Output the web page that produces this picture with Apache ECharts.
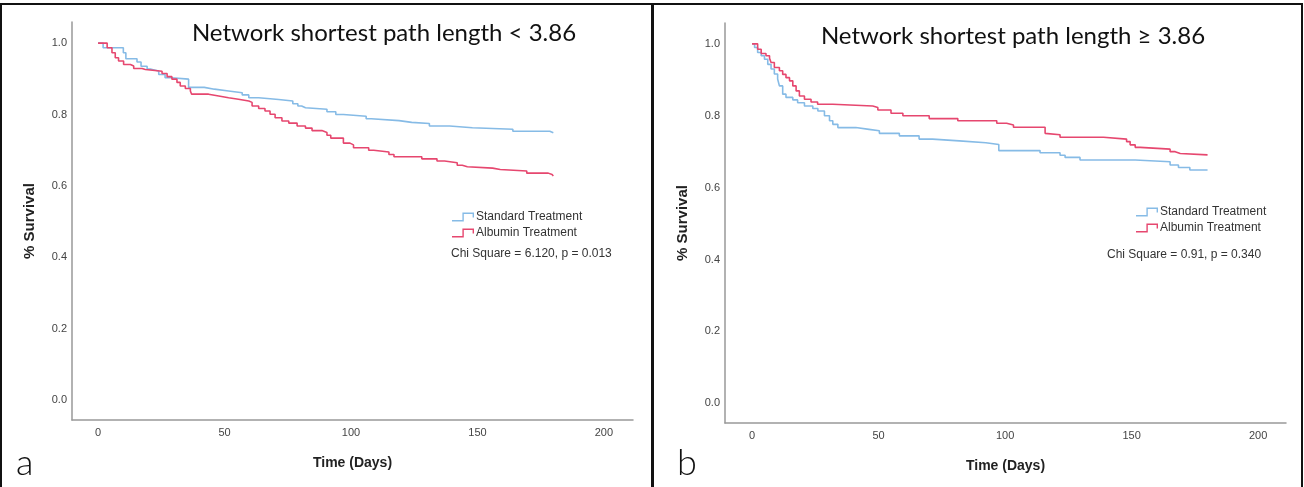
<!DOCTYPE html>
<html>
<head>
<meta charset="utf-8">
<script src="https://cdn.jsdelivr.net/npm/echarts@6/dist/echarts.min.js"></script>
<style>
  html, body { margin: 0; padding: 0; background: #fff; }
  #main { width: 1304px; height: 487px; }
</style>
</head>
<body>
<div id="main"></div>
<script>
// Kaplan-Meier curves (days, survival after each drop)
const panelTitles = ["Network shortest path length < 3.86", "Network shortest path length \u2265 3.86"];
const panelLetters = ["a", "b"];
const seriesNames = ["Standard Treatment", "Albumin Treatment"];
const chiTexts = ["Chi Square = 6.120, p = 0.013", "Chi Square = 0.91, p = 0.340"];
const xTicks = [0, 50, 100, 150, 200];
const yTicks = [0, 0.2, 0.4, 0.6, 0.8, 1.0];

// panel a, standard treatment
const aStdDays = [0, 2, 10, 11, 15.4, 17, 19.4, 21, 24, 26.5, 29, 35.8, 42, 46, 51.6, 57, 59.6, 63.5, 71.4, 77, 79, 80.5, 82, 90.5, 94, 97, 106, 108, 119, 124, 131, 139, 148, 164, 178.6, 180];
const aStdSurv = [1.0, 0.987, 0.973, 0.956, 0.947, 0.935, 0.927, 0.922, 0.912, 0.903, 0.899, 0.876, 0.871, 0.866, 0.861, 0.855, 0.847, 0.842, 0.838, 0.83, 0.824, 0.819, 0.815, 0.808, 0.8, 0.795, 0.788, 0.783, 0.778, 0.775, 0.768, 0.763, 0.759, 0.753, 0.749, 0.749];
// panel a, albumin treatment
const aAlbDays = [0, 3.6, 5.5, 6.8, 8.1, 10.1, 12.8, 14.1, 17.4, 18.7, 25.3, 27.3, 29.2, 31.2, 32.5, 34.5, 36.5, 37, 43.7, 47.7, 51.6, 55.5, 59.6, 60.9, 63.5, 66, 68, 70, 72.7, 75.4, 78.7, 82, 84.6, 88.5, 90.5, 92, 97, 99.6, 101, 107, 109, 115, 117, 128, 134, 137, 142, 144, 146, 156, 159, 169.5, 178, 179.5, 180];
const aAlbSurv = [1.0, 0.987, 0.973, 0.959, 0.95, 0.94, 0.936, 0.929, 0.926, 0.921, 0.915, 0.906, 0.899, 0.89, 0.88, 0.873, 0.866, 0.857, 0.852, 0.847, 0.843, 0.838, 0.834, 0.824, 0.817, 0.81, 0.801, 0.791, 0.782, 0.776, 0.768, 0.762, 0.755, 0.75, 0.742, 0.734, 0.72, 0.715, 0.707, 0.7, 0.695, 0.688, 0.682, 0.676, 0.67, 0.665, 0.658, 0.654, 0.65, 0.646, 0.642, 0.636, 0.632, 0.628, 0.628];
// panel b, standard treatment
const bStdDays = [0, 1, 2.2, 3.6, 4.9, 6.2, 7.5, 8.8, 10.1, 10.8, 12.1, 13.4, 16.1, 18, 20.7, 24, 26, 28.6, 30.6, 31.9, 33.9, 41, 46.2, 50.3, 58.2, 66, 71.3, 81.9, 92.4, 97.5, 113.8, 121.7, 123.7, 129.6, 151.4, 165.2, 168.5, 173, 180];
const bStdSurv = [1.0, 0.99, 0.976, 0.967, 0.957, 0.943, 0.93, 0.916, 0.902, 0.883, 0.86, 0.851, 0.844, 0.836, 0.827, 0.82, 0.813, 0.8, 0.786, 0.776, 0.767, 0.762, 0.758, 0.751, 0.744, 0.735, 0.73, 0.725, 0.72, 0.703, 0.697, 0.69, 0.684, 0.677, 0.672, 0.663, 0.656, 0.649, 0.649];
// panel b, albumin treatment
const bAlbDays = [0, 2.2, 3.6, 5.5, 6.9, 7.5, 8.8, 10.8, 12.1, 13.4, 14.8, 16.1, 17.4, 18.7, 20.7, 23.3, 25.9, 31.9, 47.7, 49.7, 54.9, 59.6, 70, 81.3, 96.7, 100.6, 103.3, 115.8, 116.5, 121.7, 138.9, 148, 149.4, 151.4, 153.4, 165.2, 167.2, 169.2, 180];
const bAlbSurv = [1.0, 0.985, 0.973, 0.967, 0.96, 0.948, 0.934, 0.925, 0.915, 0.906, 0.897, 0.883, 0.869, 0.855, 0.846, 0.838, 0.832, 0.827, 0.823, 0.816, 0.807, 0.8, 0.792, 0.786, 0.779, 0.774, 0.768, 0.751, 0.747, 0.74, 0.735, 0.728, 0.719, 0.712, 0.707, 0.7, 0.695, 0.691, 0.691];

const colors = ["#86bbe6", "#e6476f"];
const labelFont = "Liberation Sans, Arial, sans-serif";

const zip = (xs, ys) => xs.map((x, i) => [x, ys[i]]);

// Layout of the two panels (pixels)
const grids = [
  { left: 72, top: 22, width: 561, height: 398 },
  { left: 725, top: 23, width: 561, height: 400 },
];
const xRanges = [[-10.3, 211.5], [-10.7, 211]];
const yRanges = [[-0.055, 1.059], [-0.055, 1.058]];

const makeXAxis = (i) => ({
  type: "value",
  gridIndex: i,
  min: xRanges[i][0],
  max: xRanges[i][1],
  name: "Time (Days)",
  nameLocation: "middle",
  nameGap: 36,
  nameTextStyle: { fontFamily: labelFont, fontWeight: "bold", fontSize: 14, color: "#222" },
  axisLine: { onZero: false, lineStyle: { color: "#999", width: 1.5 } },
  axisTick: { show: false, customValues: xTicks },
  axisLabel: { customValues: xTicks, color: "#444", fontSize: 11, fontFamily: labelFont, margin: 7 },
  splitLine: { show: false },
});

const makeYAxis = (i) => ({
  type: "value",
  gridIndex: i,
  min: yRanges[i][0],
  max: yRanges[i][1],
  name: "% Survival",
  nameLocation: "middle",
  nameGap: 35,
  nameTextStyle: { fontFamily: labelFont, fontWeight: "bold", fontSize: 15, color: "#222" },
  axisLine: { show: true, onZero: false, lineStyle: { color: "#999", width: 1.5 } },
  axisTick: { show: false, customValues: yTicks },
  axisLabel: {
    customValues: yTicks,
    color: "#444",
    fontSize: 11,
    fontFamily: labelFont,
    margin: 5,
    formatter: (v) => v.toFixed(1),
  },
  splitLine: { show: false },
});

const makeSeries = (name, data, color, i) => ({
  name: name,
  type: "line",
  step: "end",
  xAxisIndex: i,
  yAxisIndex: i,
  data: data,
  showSymbol: false,
  silent: true,
  lineStyle: { color: color, width: 1.6 },
  itemStyle: { color: color },
});

// thin filled step outline for the legend keys (22 x 9 box)
const stepIcon = "path://M0,7.6 L10.4,7.6 L10.4,0 L22,0 L22,5 L20.6,5 L20.6,1.4 L11.8,1.4 L11.8,9 L0,9 Z";

const makeLegend = (left, top) => ({
  orient: "vertical",
  left: left,
  top: top,
  itemWidth: 22,
  itemHeight: 9,
  itemGap: 4,
  padding: 0,
  icon: stepIcon,
  data: seriesNames,
  textStyle: { fontFamily: labelFont, fontSize: 12, color: "#333", padding: [0, 0, 0, -3] },
});

const initChart = () => {
  const chartDom = document.getElementById("main");
  const myChart = echarts.init(chartDom, null, { renderer: "canvas" });

  const option = {
    backgroundColor: "#fff",
    animation: false,
    grid: grids,
    xAxis: [makeXAxis(0), makeXAxis(1)],
    yAxis: [makeYAxis(0), makeYAxis(1)],
    legend: [makeLegend(452, 211), makeLegend(1136, 206)],
    series: [
      makeSeries(seriesNames[0], zip(aStdDays, aStdSurv), colors[0], 0),
      makeSeries(seriesNames[1], zip(aAlbDays, aAlbSurv), colors[1], 0),
      makeSeries(seriesNames[0], zip(bStdDays, bStdSurv), colors[0], 1),
      makeSeries(seriesNames[1], zip(bAlbDays, bAlbSurv), colors[1], 1),
    ],
    graphic: [
      // panel frames
      { type: "rect", shape: { x: 1, y: 4, width: 651, height: 490 }, style: { fill: "none", stroke: "#111", lineWidth: 2 }, silent: true },
      { type: "rect", shape: { x: 653, y: 4, width: 649, height: 490 }, style: { fill: "none", stroke: "#111", lineWidth: 2 }, silent: true },
      // titles
      { type: "text", x: 384, y: 33, style: { text: panelTitles[0], font: "24px Lato, sans-serif", fill: "#111", align: "center", verticalAlign: "middle" } },
      { type: "text", x: 1013, y: 36, style: { text: panelTitles[1], font: "24px Lato, sans-serif", fill: "#111", align: "center", verticalAlign: "middle" } },
      // chi square notes
      { type: "text", x: 451, y: 254, style: { text: chiTexts[0], font: "12px " + labelFont, fill: "#333", verticalAlign: "middle" } },
      { type: "text", x: 1107, y: 255, style: { text: chiTexts[1], font: "12px " + labelFont, fill: "#333", verticalAlign: "middle" } },
      // panel letters
      { type: "text", x: 16, y: 481, style: { text: panelLetters[0], font: "300 36px Lato, sans-serif", fill: "#111", verticalAlign: "bottom" } },
      { type: "text", x: 677, y: 481, style: { text: panelLetters[1], font: "300 36px Lato, sans-serif", fill: "#111", verticalAlign: "bottom" } },
    ],
  };

  myChart.setOption(option);
  return myChart;
};

let chartInstance = initChart();
</script>
</body>
</html>
